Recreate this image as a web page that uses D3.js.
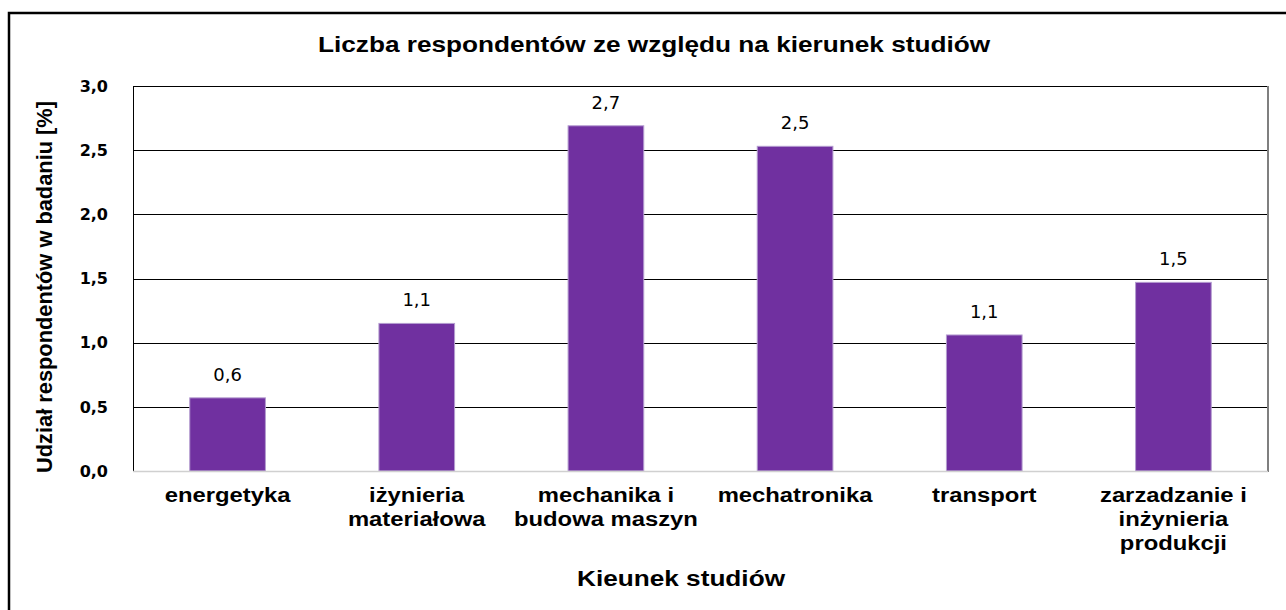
<!DOCTYPE html>
<html>
<head>
<meta charset="utf-8">
<script src="https://cdn.jsdelivr.net/npm/d3@7/dist/d3.min.js"></script>
<style>
  body { margin: 0; background: #fff; }
  svg { display: block; }
</style>
</head>
<body>
<div id="chart"></div>
<script>
var categories = [
  ["energetyka"],
  ["iżynieria", "materiałowa"],
  ["mechanika i", "budowa maszyn"],
  ["mechatronika"],
  ["transport"],
  ["zarzadzanie i", "inżynieria", "produkcji"]
];
var values = [0.57, 1.15, 2.69, 2.53, 1.06, 1.47];
var valueLabels = ["0,6", "1,1", "2,7", "2,5", "1,1", "1,5"];
var yTicks = [0, 0.5, 1.0, 1.5, 2.0, 2.5, 3.0];
var titleText = "Liczba respondentów ze względu na kierunek studiów";
var yTitle = "Udział respondentów w badaniu [%]";
var xTitle = "Kieunek studiów";

var w = 1286, h = 610;
var plotLeft = 133, plotRight = 1268, plotTop = 86, plotBottom = 471;
var stretch = 1.19;

var svg = d3.select("#chart").append("svg")
  .attr("width", w)
  .attr("height", h);

// widen text horizontally like the original bitmap
function widen(sel) {
  sel.each(function(){
    var len = this.getComputedTextLength();
    d3.select(this)
      .attr("textLength", len * stretch)
      .attr("lengthAdjust", "spacingAndGlyphs");
  });
}

// outer frame
svg.append("rect")
  .attr("x", 9).attr("y", 13)
  .attr("width", 1300).attr("height", 700)
  .attr("fill", "none")
  .attr("stroke", "#000")
  .attr("stroke-width", 2.5);

var x = d3.scaleBand()
  .domain(d3.range(values.length))
  .range([plotLeft, plotRight])
  .paddingInner(0.6)
  .paddingOuter(0.3);

var y = d3.scaleLinear()
  .domain([0, 3])
  .range([plotBottom, plotTop]);

// gridlines
svg.selectAll("line.grid")
  .data(yTicks.filter(function(d){ return d > 0; }))
  .enter()
  .append("line")
  .attr("x1", plotLeft).attr("x2", plotRight)
  .attr("y1", function(d){ return Math.round(y(d)) + 0.5; })
  .attr("y2", function(d){ return Math.round(y(d)) + 0.5; })
  .style("stroke", "#000")
  .style("stroke-width", 1);

// plot border: left black, right grey
svg.append("line")
  .attr("x1", plotLeft + 0.5).attr("x2", plotLeft + 0.5)
  .attr("y1", plotTop).attr("y2", plotBottom)
  .style("stroke", "#000");
svg.append("line")
  .attr("x1", plotRight).attr("x2", plotRight)
  .attr("y1", plotTop).attr("y2", plotBottom + 1)
  .style("stroke", "#7f7f7f")
  .style("stroke-width", 2);

// bars
svg.selectAll("rect.bar")
  .data(values)
  .enter()
  .append("rect")
  .attr("x", function(d, i){ return x(i); })
  .attr("y", function(d){ return y(d); })
  .attr("width", x.bandwidth())
  .attr("height", function(d){ return plotBottom - y(d); })
  .attr("fill", "#7030a0")
  .attr("stroke", "#b49cd0")
  .attr("stroke-width", 1);

svg.append("line")
  .attr("x1", plotLeft).attr("x2", plotRight)
  .attr("y1", plotBottom + 0.5).attr("y2", plotBottom + 0.5)
  .style("stroke", "#d0d0d0")
  .style("stroke-width", 1.5);

// value labels
svg.selectAll("text.val")
  .data(values)
  .enter()
  .append("text")
  .attr("x", function(d, i){ return x(i) + x.bandwidth() / 2; })
  .attr("y", function(d){ return y(d) - 17; })
  .attr("text-anchor", "middle")
  .style("font-family", "'DejaVu Sans', Verdana, sans-serif")
  .style("font-size", "18px")
  .text(function(d, i){ return valueLabels[i]; });

// y tick labels
svg.selectAll("text.ytick")
  .data(yTicks)
  .enter()
  .append("text")
  .attr("x", 108)
  .attr("y", function(d){ return y(d); })
  .attr("dy", "0.36em")
  .attr("text-anchor", "end")
  .style("font-family", "'DejaVu Sans', Verdana, sans-serif")
  .style("font-weight", "bold")
  .style("font-size", "16px")
  .text(function(d){ return d3.format(".1f")(d).replace(".", ","); });

// category labels
var cat = svg.selectAll("g.cat")
  .data(categories)
  .enter()
  .append("g")
  .attr("class", "cat");
cat.each(function(lines, i){
  var g = d3.select(this);
  lines.forEach(function(s, j){
    g.append("text")
      .attr("x", x(i) + x.bandwidth() / 2)
      .attr("y", 502 + j * 24)
      .attr("text-anchor", "middle")
      .style("font-family", "'Liberation Sans', Arial, sans-serif")
      .style("font-weight", "bold")
      .style("font-size", "20px")
      .text(s)
      .call(widen);
  });
});

// titles
svg.append("text")
  .attr("x", 654).attr("y", 52)
  .attr("text-anchor", "middle")
  .style("font-family", "'Liberation Sans', Arial, sans-serif")
  .style("font-weight", "bold")
  .style("font-size", "22px")
  .text(titleText)
  .call(widen);

svg.append("text")
  .attr("x", 681).attr("y", 586)
  .attr("text-anchor", "middle")
  .style("font-family", "'Liberation Sans', Arial, sans-serif")
  .style("font-weight", "bold")
  .style("font-size", "22px")
  .text(xTitle)
  .call(widen);

svg.append("text")
  .attr("transform", "translate(52,287) rotate(-90)")
  .attr("text-anchor", "middle")
  .attr("textLength", 372)
  .attr("lengthAdjust", "spacingAndGlyphs")
  .style("font-family", "'Liberation Sans', Arial, sans-serif")
  .style("font-weight", "bold")
  .style("font-size", "22px")
  .text(yTitle);
</script>
</body>
</html>
